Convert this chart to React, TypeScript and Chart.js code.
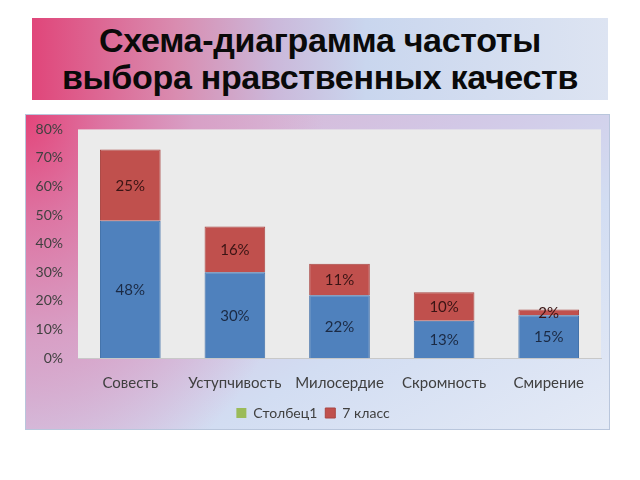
import React, { useEffect, useRef } from "react";
import { Chart, registerables } from "chart.js";

Chart.register(...registerables);

const categories = ["Совесть", "Уступчивость", "Милосердие", "Скромность", "Смирение"];
const blueValues = [0.48, 0.30, 0.22, 0.13, 0.15];
const greenValues: (number | null)[] = [null, null, null, null, null];
const redValues = [0.25, 0.16, 0.11, 0.10, 0.02];
const yTicks = [0, 0.1, 0.2, 0.3, 0.4, 0.5, 0.6, 0.7, 0.8];
const titleLines = ["Схема-диаграмма частоты", "выбора нравственных качеств"];
const legendLabels = ["Столбец1", "7 класс"];

const FONT = "Lato, 'Open Sans', sans-serif";

const plotBgPlugin = {
  id: "plotBg",
  beforeDraw(chart: any) {
    const { ctx, chartArea } = chart;
    if (!chartArea) return;
    ctx.save();
    ctx.fillStyle = "#ebebeb";
    ctx.fillRect(chartArea.left, chartArea.top, chartArea.right - chartArea.left, chartArea.bottom - chartArea.top);
    ctx.restore();
  },
};

const valueLabelPlugin = {
  id: "valueLabels",
  afterDatasetsDraw(chart: any) {
    const { ctx } = chart;
    ctx.save();
    ctx.font = `15px ${FONT}`;
    ctx.textAlign = "center";
    ctx.textBaseline = "middle";
    chart.data.datasets.forEach((ds: any, di: number) => {
      if (!ds.showValues) return;
      const meta = chart.getDatasetMeta(di);
      meta.data.forEach((bar: any, i: number) => {
        const v = ds.data[i];
        if (v == null) return;
        const y = (bar.y + bar.base) / 2;
        ctx.fillStyle = ds.valueColor;
        ctx.fillText(Math.round(v * 100) + "%", bar.x, y + 1);
      });
    });
    ctx.restore();
  },
};

function BarChart() {
  const ref = useRef<HTMLCanvasElement>(null);
  useEffect(() => {
    if (!ref.current) return;
    const chart = new Chart(ref.current, {
      type: "bar",
      data: {
        labels: categories,
        datasets: [
          {
            label: "",
            data: blueValues,
            backgroundColor: "#4f81bd",
            borderColor: "#3f6fa8",
            borderWidth: 1,
            stack: "s",
            showValues: true,
            valueColor: "#1b2a44",
          } as any,
          {
            label: legendLabels[0],
            data: greenValues,
            backgroundColor: "#9bbb59",
            borderWidth: 0,
            stack: "s",
          } as any,
          {
            label: legendLabels[1],
            data: redValues,
            backgroundColor: "#c0504d",
            borderColor: "#a94542",
            borderWidth: 1,
            stack: "s",
            showValues: true,
            valueColor: "#3a1414",
          } as any,
        ],
      },
      options: {
        animation: false,
        responsive: false,
        maintainAspectRatio: false,
        layout: { padding: { top: 3, right: 9, bottom: 0, left: 0 } },
        datasets: { bar: { categoryPercentage: 1, barPercentage: 0.58 } },
        scales: {
          x: {
            stacked: true,
            grid: { display: false },
            border: { display: true, color: "#c8c8c8" },
            ticks: { color: "#404040", font: { family: FONT, size: 15 }, padding: 8 },
            afterFit: (axis: any) => {
              axis.height = 40;
            },
          },
          y: {
            stacked: true,
            min: 0,
            max: 0.8,
            afterBuildTicks: (axis: any) => {
              axis.ticks = yTicks.map((v) => ({ value: v }));
            },
            afterFit: (axis: any) => {
              axis.width = 53;
            },
            grid: { display: false },
            border: { display: false },
            ticks: {
              color: "#404040",
              font: { family: FONT, size: 14 },
              padding: 7,
              callback: (v: any) => Math.round(Number(v) * 100) + "%",
            },
          },
        },
        plugins: {
          legend: {
            position: "bottom",
            labels: {
              filter: (item: any) => item.text !== "",
              boxWidth: 10,
              boxHeight: 10,
              padding: 8,
              color: "#404040",
              font: { family: FONT, size: 14 },
            },
          },
          tooltip: { enabled: false },
          title: { display: false },
        },
      } as any,
      plugins: [plotBgPlugin, valueLabelPlugin],
    });
    return () => chart.destroy();
  }, []);
  return <canvas ref={ref} width={585} height={316} style={{ display: "block" }} />;
}

export default function App() {
  return (
    <div style={{ position: "fixed", left: 0, top: 0, width: 640, height: 480, background: "#ffffff", overflow: "hidden" }}>
      <div
        style={{
          position: "absolute",
          left: 32,
          top: 18,
          width: 576,
          height: 82,
          background: "linear-gradient(90deg, #e0467a 0%, #d98cb0 25%, #cbb8da 42%, #c9d6ee 58%, #dde4f2 100%)",
          fontFamily: "'Liberation Sans', Arial, sans-serif",
          fontWeight: "bold",
          fontSize: 34,
          lineHeight: "37px",
          color: "#0a0a0a",
          textAlign: "center",
          paddingTop: 4,
          boxSizing: "border-box",
          letterSpacing: -0.3,
        }}
      >
        <div>{titleLines[0]}</div>
        <div>{titleLines[1]}</div>
      </div>
      <div
        style={{
          position: "absolute",
          left: 25,
          top: 114,
          width: 585,
          height: 316,
          border: "1px solid #b9c6dc",
          boxSizing: "border-box",
          background:
            "radial-gradient(ellipse 60% 150% at 0% 0%, #e3457a 0%, #dd74a2 22%, #d8a0c6 48%, rgba(214,190,225,0) 85%), linear-gradient(150deg, #dbaacb 0%, #d2c8e6 40%, #d2ddf2 65%, #e4eaf6 100%)",
        }}
      >
        <div style={{ position: "absolute", left: -1, top: -1 }}>
          <BarChart />
        </div>
      </div>
    </div>
  );
}
